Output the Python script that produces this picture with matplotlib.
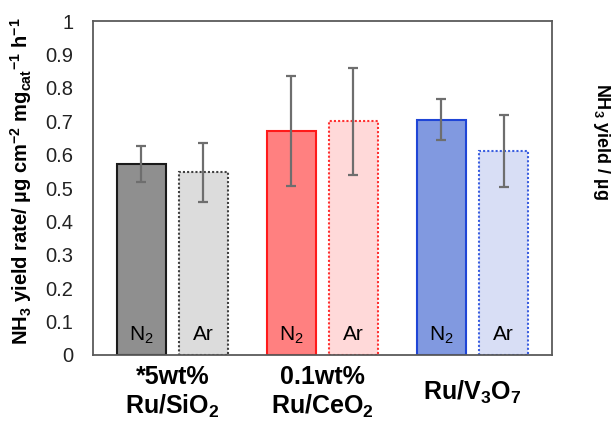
import numpy as np
import matplotlib
matplotlib.use("Agg")
import matplotlib.pyplot as plt

plt.rcParams['font.family'] = ['Liberation Sans', 'DejaVu Sans']
plt.rcParams['mathtext.fontset'] = 'custom'
plt.rcParams['mathtext.rm'] = 'Liberation Sans'
plt.rcParams['mathtext.bf'] = 'Liberation Sans:bold'

# data
catalysts = ["*5wt%\nRu/SiO$_\\mathregular{2}$",
             "0.1wt%\nRu/CeO$_\\mathregular{2}$",
             "Ru/V$_\\mathregular{3}$O$_\\mathregular{7}$"]
n2_rate = [0.573, 0.670, 0.705]
n2_err = [0.054, 0.165, 0.062]
ar_rate = [0.547, 0.700, 0.612]
ar_err = [0.088, 0.161, 0.108]

n2_fill = ["#8f8f8f", "#ff8080", "#8199e0"]
n2_edge = ["#1a1a1a", "#ff1a1a", "#1f45d6"]
ar_fill = ["#dcdcdc", "#ffd9d9", "#d8def5"]
ar_edge = ["#404040", "#ff3030", "#3a5ee0"]

x = np.arange(len(catalysts))
w = 0.327
off = 0.207

fig = plt.figure(figsize=(6.14, 4.23), dpi=100)
ax = fig.add_axes([0.151, 0.161, 0.748, 0.789])

ax.bar(x - off, n2_rate, width=w, color=n2_fill, edgecolor=n2_edge, linewidth=1.5, zorder=2)
ax.bar(x + off, ar_rate, width=w, color=ar_fill, edgecolor=ar_edge, linewidth=1.5,
       linestyle=(0, (1, 1)), zorder=2)
ax.errorbar(x - off, n2_rate, yerr=n2_err, fmt='none', ecolor='#6e6e6e',
            elinewidth=1.6, capsize=3.5, capthick=1.6, zorder=3)
ax.errorbar(x + off, ar_rate, yerr=ar_err, fmt='none', ecolor='#6e6e6e',
            elinewidth=1.6, capsize=3.5, capthick=1.6, zorder=3)

for i in x:
    ax.text(i - off, 0.06, "N$_\\mathregular{2}$", ha='center', va='center', fontsize=15, zorder=4)
    ax.text(i + off, 0.06, "Ar", ha='center', va='center', fontsize=15, zorder=4)
    ax.text(i, -0.113, catalysts[i], ha='center', va='center', fontsize=18,
            fontweight='bold', transform=ax.get_xaxis_transform(), linespacing=1.2)

ax.set_xlim(-0.53, 2.53)
ax.set_ylim(0, 1)
ax.set_yticks(np.arange(0, 1.01, 0.1))
ax.set_yticklabels(["0", "0.1", "0.2", "0.3", "0.4", "0.5", "0.6", "0.7", "0.8", "0.9", "1"])
ax.set_xticks([])
ax.tick_params(axis='y', length=0, labelsize=14.5, pad=14, labelcolor='#222222')
for s in ax.spines.values():
    s.set_color('#5a5a5a')
    s.set_linewidth(1.3)

ax.set_ylabel("NH$_\\mathregular{3}$ yield rate/ µg cm$^\\mathregular{-2}$ mg$_\\mathregular{cat}$$^\\mathregular{-1}$ h$^\\mathregular{-1}$",
              fontsize=14.5, fontweight='bold')
ax.yaxis.set_label_coords(-0.128, 0.52)

fig.text(0.980, 0.665, "NH$_\\mathregular{3}$ yield / µg", rotation=270, ha='center', va='center',
         fontsize=13, fontweight='bold')

fig.savefig("out.png", dpi=100)
